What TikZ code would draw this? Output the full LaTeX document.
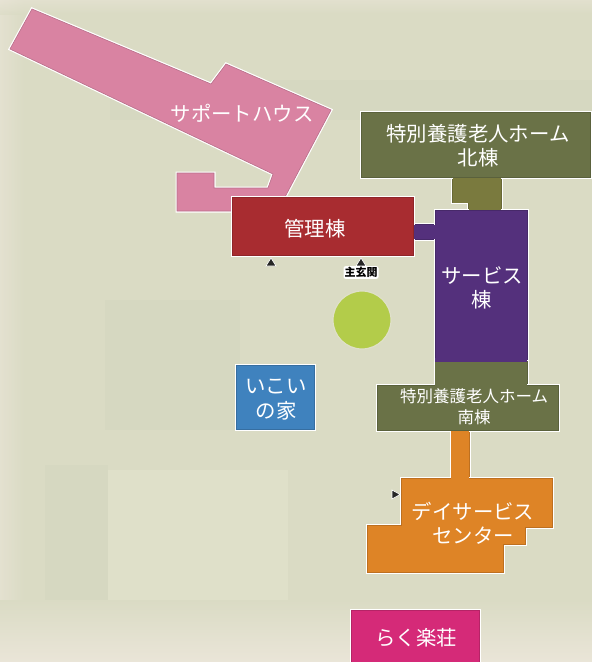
\documentclass[tikz,border=0pt]{standalone}
\usepackage{fontspec}
\setmainfont{Noto Sans CJK JP}
\definecolor{bg}{HTML}{DADBC4}
\definecolor{bgdark}{HTML}{D6D8C1}
\definecolor{bglight}{HTML}{DFE0C9}
\definecolor{bgpale}{HTML}{EAE5D8}
\definecolor{pinkb}{HTML}{D983A2}
\definecolor{redb}{HTML}{A82C30}
\definecolor{oliveb}{HTML}{6A7247}
\definecolor{olivec}{HTML}{7A7A3E}
\definecolor{purpleb}{HTML}{54307C}
\definecolor{orangeb}{HTML}{DE8426}
\definecolor{blueb}{HTML}{3F82BE}
\definecolor{magb}{HTML}{D52A78}
\definecolor{greenb}{HTML}{B3CC4A}
\tikzset{
  bld/.style={preaction={draw=white,line width=3pt,line join=miter},draw=#1!85!black,fill=#1,line width=.6pt,line join=miter},
  lab/.style={text=white,font=\fontsize{20.4}{24}\selectfont,align=center,inner sep=0pt},
  smalllab/.style={text=white,font=\fontsize{16.5}{21}\selectfont,align=center,inner sep=0pt},
  entmark/.style={fill=black!85,draw=white,line width=.6pt}
}
\begin{document}
\begin{tikzpicture}[x=1pt,y=-1pt]
\useasboundingbox (0,0) rectangle (592,662);
\fill[bg] (0,0) rectangle (592,662);
\fill[bgdark] (110,80) rectangle (592,120);
\fill[bgdark] (105,300) rectangle (240,430);
\fill[bgdark] (45,465) rectangle (108,600);
\fill[bglight] (108,470) rectangle (288,600);
\shade[left color=bgpale,right color=bg,opacity=.6] (0,0) rectangle (25,662);
\shade[top color=bgpale,bottom color=bg,opacity=.5] (0,0) rectangle (592,14);
\shade[top color=bg,bottom color=bgpale] (0,600) rectangle (592,662);
% support house
\filldraw[bld=pinkb] (32,9) -- (211,84) -- (226,64) -- (331,110) -- (285,197) -- (285,211)
  -- (177,211) -- (177,173) -- (214,173) -- (214,188) -- (268,188) -- (273,174) -- (10,49) -- cycle;
% links
\filldraw[bld=purpleb] (408,224) rectangle (438,239);
\filldraw[bld=olivec] (452,175) -- (501,175) -- (501,212) -- (468,212) -- (468,202) -- (452,202) -- cycle;
\filldraw[bld=orangeb] (451,428) rectangle (469,480);
% buildings
\filldraw[bld=redb] (232,197) rectangle (413,255);
\filldraw[bld=purpleb] (435,210) rectangle (527,362);
\fill[purpleb] (414,224.5) rectangle (436,238.5);
\fill[olivec] (468.5,203) rectangle (500.5,210);
\filldraw[bld=oliveb] (435,361) rectangle (527,387);
\fill[purpleb] (435.3,358) rectangle (526.7,361.5);
\fill[oliveb] (435.3,361.5) rectangle (526.7,364);
\filldraw[bld=oliveb] (361,112) rectangle (590.5,177);
\fill[olivec] (452.5,177.5) rectangle (500.5,203);
\filldraw[bld=oliveb] (377,385) rectangle (558,430);
\fill[oliveb] (435.4,363) rectangle (526.7,386);
\filldraw[bld=orangeb] (401,478) -- (552,478) -- (552,527) -- (525,527) -- (525,544) -- (503,544) -- (503,572) -- (367,572) -- (367,525) -- (401,525) -- cycle;
\fill[orangeb] (451.4,431) rectangle (468.6,479);
\filldraw[bld=blueb] (236,365) rectangle (314,429.5);
\filldraw[bld=magb] (351,610) rectangle (479,666);
\filldraw[draw=bglight,line width=1.2pt,fill=greenb] (362,320) circle (29);
% entrance marks
\filldraw[entmark] (266,266) -- (271,258) -- (276,266) -- cycle;
\filldraw[entmark] (356,266) -- (361,258) -- (366,266) -- cycle;
\filldraw[entmark] (392,490) -- (400,494.5) -- (392,499) -- cycle;
% labels
\node[lab] (support) at (242,113) {サポートハウス};
\node[lab] (admin) at (315,229) {管理棟};
\node[lab] (north) at (478,146) {特別養護老人ホーム\\北棟};
\node[lab] (service) at (482,288) {サービス\\棟};
\node[smalllab] (south) at (474,407) {特別養護老人ホーム\\南棟};
\node[lab] (day) at (473,523) {デイサービス\\センター};
\node[lab,font=\fontsize{20.4}{25}\selectfont] (ikoi) at (276,400) {いこい\\の家};
\node[lab] (raku) at (416,638) {らく楽荘};
\node[text=black,font=\bfseries\fontsize{11}{11}\selectfont,inner sep=1pt,fill=white,rounded corners=2pt] (entr) at (361,272.5) {主玄関};
\end{tikzpicture}
\end{document}
